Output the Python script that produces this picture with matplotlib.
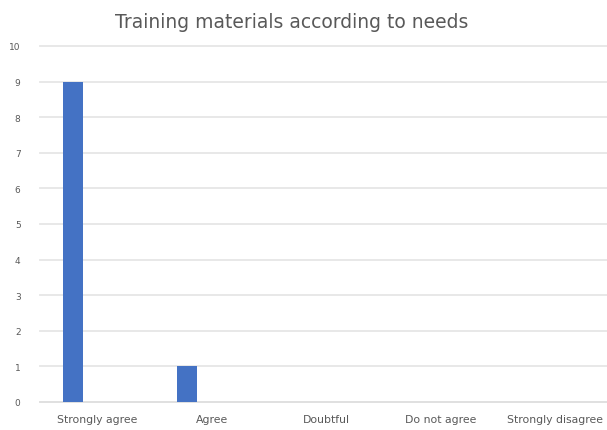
import matplotlib.pyplot as plt
import numpy as np

categories = ["Strongly agree", "Agree", "Doubtful", "Do not agree", "Strongly disagree"]
responses = [9, 1, 0, 0, 0]
y_ticks = list(range(0, 11))

fig = plt.figure(figsize=(6.07, 4.31), dpi=100)
ax = fig.add_axes([40 / 607, 28 / 431, 572 / 607, 356 / 431])

x = np.arange(len(categories))
ax.bar(x - 0.215, responses, width=0.175, color="#4472C4", zorder=3)

ax.set_xlim(-0.5, len(categories) - 0.5)
ax.set_ylim(0, 10)
ax.set_yticks(y_ticks)
ax.set_yticklabels([str(t) for t in y_ticks])
ax.set_xticks(x)
ax.set_xticklabels(categories)
ax.tick_params(axis="both", length=0, colors="#595959")
ax.tick_params(axis="x", pad=9, labelsize=7.8)
ax.tick_params(axis="y", pad=14, labelsize=6.5)
ax.grid(axis="y", color="#E6E6E6", linewidth=1.3, zorder=0, clip_on=False)
for side in ["top", "right", "left"]:
    ax.spines[side].set_visible(False)
ax.spines["bottom"].set_color("#E0E0E0")
ax.spines["bottom"].set_linewidth(1.3)

fig.text(292 / 607, 1 - 22 / 431, "Training materials according to needs",
         ha="center", va="center", fontsize=13.5, color="#595959")

fig.savefig("out.png", dpi=100)
